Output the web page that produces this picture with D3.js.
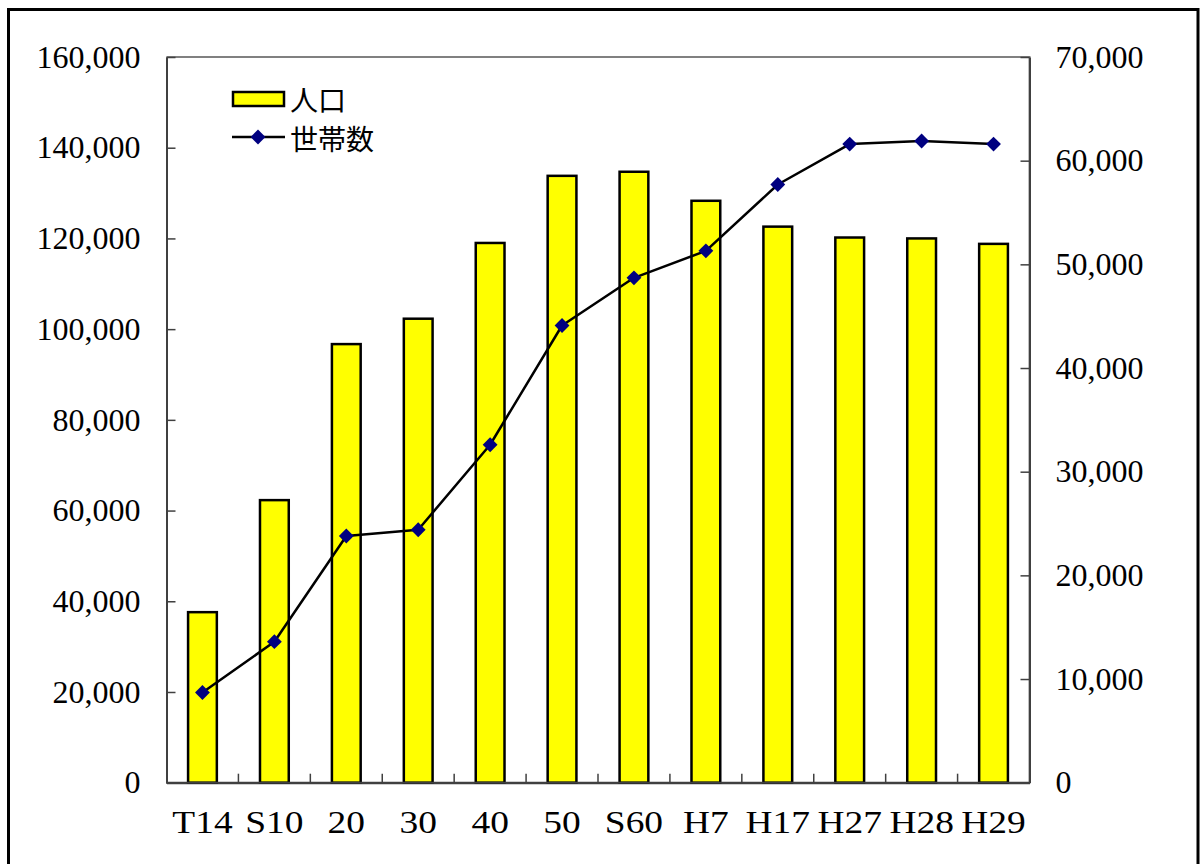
<!DOCTYPE html>
<html>
<head>
<meta charset="utf-8">
<script src="https://cdn.jsdelivr.net/npm/d3@7"></script>
<style>
  body { margin: 0; background: #fff; }
  svg { display: block; }
</style>
</head>
<body>
<svg id="chart" width="1200" height="864"></svg>
<script>
// 年次
const categories = ['T14', 'S10', '20', '30', '40', '50', 'S60', 'H7', 'H17', 'H27', 'H28', 'H29'];
// 人口 (左軸)
const population = [37600, 62300, 96700, 102300, 119000, 133800, 134700, 128300, 122600, 120200, 120000, 118800];
// 世帯数 (右軸)
const households = [8700, 13600, 23800, 24400, 32600, 44100, 48700, 51300, 57700, 61600, 61900, 61600];
const leftTicks = [0, 20000, 40000, 60000, 80000, 100000, 120000, 140000, 160000];
const rightTicks = [0, 10000, 20000, 30000, 40000, 50000, 60000, 70000];

const svg = d3.select('#chart');
const serif = '"Liberation Serif", "DejaVu Serif", serif';
const jp = '"Noto Sans CJK JP", sans-serif';

let plot = { left: 166.5, right: 1029.5, top: 57, bottom: 782.7 };

// outer frame
svg.append('rect')
   .attr('x', 8.5)
   .attr('y', 9.5)
   .attr('width', 1189.5)
   .attr('height', 870)
   .attr('fill', 'none')
   .attr('stroke', '#000')
   .attr('stroke-width', 3);

let x = d3.scaleBand()
          .domain(categories)
          .range([plot.left, plot.right])
          .padding(0);

let yLeft = d3.scaleLinear()
              .domain([0, 160000])
              .range([plot.bottom, plot.top]);

let yRight = d3.scaleLinear()
               .domain([0, 70000])
               .range([plot.bottom, plot.top]);

let fmt = d3.format(',');

// plot frame (top + right edge)
svg.append('path')
   .attr('d', `M${plot.left},${plot.top}H${plot.right}V${plot.bottom}`)
   .attr('fill', 'none')
   .attr('stroke', '#808080')
   .attr('stroke-width', 2);

// left axis
let gLeft = svg.append('g')
               .attr('transform', `translate(${plot.left},0)`)
               .call(d3.axisLeft(yLeft)
                       .tickValues(leftTicks)
                       .tickFormat(fmt)
                       .tickSizeInner(-9)
                       .tickSizeOuter(0)
                       .tickPadding(26));

// right axis
let gRight = svg.append('g')
                .attr('transform', `translate(${plot.right},0)`)
                .call(d3.axisRight(yRight)
                        .tickValues(rightTicks)
                        .tickFormat(fmt)
                        .tickSizeInner(-9)
                        .tickSizeOuter(0)
                        .tickPadding(26));

// bottom axis (labels at band centres)
let gBottom = svg.append('g')
                 .attr('transform', `translate(0,${plot.bottom})`)
                 .call(d3.axisBottom(x)
                         .tickSize(0)
                         .tickPadding(28));

[gLeft, gRight, gBottom].forEach(g => {
    g.selectAll('.domain')
     .attr('stroke', '#404040')
     .attr('stroke-width', 2);
    g.selectAll('.tick line')
     .attr('stroke', '#404040')
     .attr('stroke-width', 1.5);
    g.selectAll('text')
     .attr('fill', '#000')
     .style('font-family', serif)
     .style('font-size', '32px');
});

// the original font is wider, stretch the category labels a bit
gBottom.selectAll('text')
       .attr('transform', 'scale(1.17,1)');

// category separator ticks, pointing inward
svg.append('g')
   .selectAll('line')
   .data(categories.slice(1))
   .enter()
   .append('line')
   .attr('x1', d => x(d))
   .attr('x2', d => x(d))
   .attr('y1', plot.bottom)
   .attr('y2', plot.bottom - 9)
   .attr('stroke', '#404040')
   .attr('stroke-width', 1.5);

// bars
let barW = x.bandwidth() * 0.4;
svg.append('g')
   .selectAll('rect')
   .data(population)
   .enter()
   .append('rect')
   .attr('x', (d, i) => x(categories[i]) + (x.bandwidth() - barW) / 2)
   .attr('y', d => yLeft(d))
   .attr('width', barW)
   .attr('height', d => yLeft(0) - yLeft(d))
   .attr('fill', '#ffff00')
   .attr('stroke', '#000')
   .attr('stroke-width', 2.5);

// redraw bottom axis line over bar bases
svg.append('line')
   .attr('x1', plot.left)
   .attr('x2', plot.right)
   .attr('y1', plot.bottom)
   .attr('y2', plot.bottom)
   .attr('stroke', '#404040')
   .attr('stroke-width', 2);

// household line
let line = d3.line()
             .x((d, i) => x(categories[i]) + x.bandwidth() / 2)
             .y(d => yRight(d));

svg.append('path')
   .datum(households)
   .attr('d', line)
   .attr('fill', 'none')
   .attr('stroke', '#000')
   .attr('stroke-width', 2.5)
   .attr('stroke-linejoin', 'round');

let diamond = d3.symbol().type(d3.symbolSquare).size(110);

svg.append('g')
   .selectAll('path')
   .data(households)
   .enter()
   .append('path')
   .attr('d', diamond)
   .attr('transform', (d, i) => `translate(${x(categories[i]) + x.bandwidth() / 2},${yRight(d)}) rotate(45)`)
   .attr('fill', '#000080');

// legend
let legend = svg.append('g');

legend.append('rect')
      .attr('x', 233)
      .attr('y', 92)
      .attr('width', 51)
      .attr('height', 14)
      .attr('fill', '#ffff00')
      .attr('stroke', '#000')
      .attr('stroke-width', 2.5);

legend.append('text')
      .attr('x', 290)
      .attr('y', 99)
      .attr('dominant-baseline', 'central')
      .style('font-family', jp)
      .style('font-size', '28px')
      .text('人口');

legend.append('line')
      .attr('x1', 232)
      .attr('x2', 285)
      .attr('y1', 137)
      .attr('y2', 137)
      .attr('stroke', '#000')
      .attr('stroke-width', 2.5);

legend.append('path')
      .attr('d', diamond)
      .attr('transform', 'translate(258,137) rotate(45)')
      .attr('fill', '#000080');

legend.append('text')
      .attr('x', 290)
      .attr('y', 138)
      .attr('dominant-baseline', 'central')
      .style('font-family', jp)
      .style('font-size', '28px')
      .text('世帯数');
</script>
</body>
</html>
